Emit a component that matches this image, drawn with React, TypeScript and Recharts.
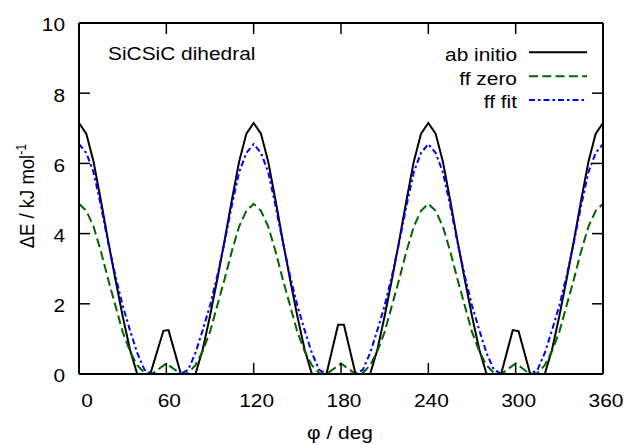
import React from 'react';
import { LineChart, Line, XAxis, YAxis } from 'recharts';

const xTicks = [0, 60, 120, 180, 240, 300, 360];
const yTicks = [0, 2, 4, 6, 8, 10];

const abPhi = [0, 5, 10, 15, 20, 25, 30, 35, 40, 49, 58, 61.5, 70, 80, 85, 90, 95, 100, 105, 110, 115, 120,
  125, 130, 135, 140, 145, 150, 155, 160, 170, 178, 182, 190, 200, 205, 210, 215, 220, 225, 230, 235, 240,
  245, 250, 255, 260, 265, 270, 275, 280, 290, 298, 302, 310, 320, 325, 330, 335, 340, 345, 350, 355, 360];
const abE = [7.15, 6.85, 6.05, 4.95, 3.8, 2.7, 1.65, 0.7, 0, 0, 1.23, 1.25, 0, 0, 0.7, 1.65, 2.7, 3.8, 4.95, 6.05, 6.85, 7.15,
  6.85, 6.05, 4.95, 3.8, 2.7, 1.65, 0.7, 0, 0, 1.4, 1.4, 0, 0, 0.7, 1.65, 2.7, 3.8, 4.95, 6.05, 6.85, 7.15,
  6.85, 6.05, 4.95, 3.8, 2.7, 1.65, 0.7, 0, 0, 1.25, 1.22, 0, 0, 0.7, 1.65, 2.7, 3.8, 4.95, 6.05, 6.85, 7.15];

const gridPhi = [0, 5, 10, 15, 20, 25, 30, 35, 40, 45, 50, 55, 60, 65, 70, 75, 80, 85, 90, 95, 100, 105, 110, 115, 120,
  125, 130, 135, 140, 145, 150, 155, 160, 165, 170, 175, 180, 185, 190, 195, 200, 205, 210, 215, 220, 225, 230, 235, 240,
  245, 250, 255, 260, 265, 270, 275, 280, 285, 290, 295, 300, 305, 310, 315, 320, 325, 330, 335, 340, 345, 350, 355, 360];
const zeroE = [4.85, 4.65, 4.2, 3.5, 2.7, 1.95, 1.2, 0.65, 0.25, 0.03, 0, 0.15, 0.3, 0.15, 0, 0.03, 0.25, 0.65, 1.2, 1.95, 2.7, 3.5, 4.2, 4.65, 4.85,
  4.65, 4.2, 3.5, 2.7, 1.95, 1.2, 0.65, 0.25, 0.03, 0, 0.15, 0.3, 0.15, 0, 0.03, 0.25, 0.65, 1.2, 1.95, 2.7, 3.5, 4.2, 4.65, 4.85,
  4.65, 4.2, 3.5, 2.7, 1.95, 1.2, 0.65, 0.25, 0.03, 0, 0.15, 0.3, 0.15, 0, 0.03, 0.25, 0.65, 1.2, 1.95, 2.7, 3.5, 4.2, 4.65, 4.85];
const fitE = [6.55, 6.3, 5.75, 4.8, 3.75, 2.8, 1.95, 1.25, 0.6, 0.12, 0.01, 0, 0, 0, 0.01, 0.12, 0.6, 1.25, 1.95, 2.8, 3.75, 4.8, 5.75, 6.3, 6.55,
  6.3, 5.75, 4.8, 3.75, 2.8, 1.95, 1.25, 0.6, 0.12, 0.01, 0, 0, 0, 0.01, 0.12, 0.6, 1.25, 1.95, 2.8, 3.75, 4.8, 5.75, 6.3, 6.55,
  6.3, 5.75, 4.8, 3.75, 2.8, 1.95, 1.25, 0.6, 0.12, 0.01, 0, 0, 0, 0.01, 0.12, 0.6, 1.25, 1.95, 2.8, 3.75, 4.8, 5.75, 6.3, 6.55];

const seriesNames = ['ab initio', 'ff zero', 'ff fit'];
const seriesColors = ['#000000', '#006400', '#0000ff'];
const seriesDash = ['', '9 4.3', '6 3 2.5 3'];

const toRows = (phi: number[], e: number[]) => phi.map((p, i) => ({ phi: p, e: e[i] }));
const seriesData = [toRows(abPhi, abE), toRows(gridPhi, zeroE), toRows(gridPhi, fitE)];

const FONT = '"Liberation Sans", Arial, Helvetica, sans-serif';
const SX = 1.13;
const FS = 18.5;
const TICK = 11;

const STxt = ({ x, y, anchor, children }: any) => (
  <text transform={`translate(${x},${y}) scale(${SX},1)`} textAnchor={anchor} fontFamily={FONT} fontSize={FS} fill="#000">
    {children}
  </text>
);

const BottomTick = (props: any) => {
  const { x, y, payload } = props;
  const v = payload.value;
  const dx = v === 0 ? 8 : 3;
  return (
    <g>
      <line x1={x} y1={y} x2={x} y2={y - TICK} stroke="#000" strokeWidth={1.5} />
      <STxt x={x + dx} y={y + 32.5} anchor="middle">{v}</STxt>
    </g>
  );
};
const TopTick = (props: any) => {
  const { x, y } = props;
  return <line x1={x} y1={y} x2={x} y2={y + TICK} stroke="#000" strokeWidth={1.5} />;
};
const LeftTick = (props: any) => {
  const { x, y, payload } = props;
  return (
    <g>
      <line x1={x} y1={y} x2={x + TICK} y2={y} stroke="#000" strokeWidth={1.5} />
      <STxt x={x - 14} y={y + 8.3} anchor="end">{payload.value}</STxt>
    </g>
  );
};
const RightTick = (props: any) => {
  const { x, y } = props;
  return <line x1={x} y1={y} x2={x - TICK} y2={y} stroke="#000" strokeWidth={1.5} />;
};

const legendRows = [52.3, 76.3, 100];

export default function App() {
  return (
    <div style={{ position: 'absolute', left: 0, top: 0, width: 625, height: 445, background: '#fff' }}>
      <LineChart width={625} height={445} margin={{ top: 22, right: 21, bottom: 70, left: 78 }}>
        <XAxis dataKey="phi" type="number" domain={[0, 360]} ticks={xTicks} allowDataOverflow height={1}
          tickSize={0} tickMargin={0} tickLine={false} axisLine={{ stroke: '#000', strokeWidth: 2 }} tick={<BottomTick />} />
        <XAxis xAxisId="top" orientation="top" dataKey="phi" type="number" domain={[0, 360]} ticks={xTicks} allowDataOverflow height={1}
          tickSize={0} tickMargin={0} tickLine={false} axisLine={{ stroke: '#000', strokeWidth: 2 }} tick={<TopTick />} />
        <YAxis type="number" domain={[0, 10]} ticks={yTicks} allowDataOverflow width={1}
          tickSize={0} tickMargin={0} tickLine={false} axisLine={{ stroke: '#000', strokeWidth: 2 }} tick={<LeftTick />} />
        <YAxis yAxisId="right" orientation="right" type="number" domain={[0, 10]} ticks={yTicks} allowDataOverflow width={1}
          tickSize={0} tickMargin={0} tickLine={false} axisLine={{ stroke: '#000', strokeWidth: 2 }} tick={<RightTick />} />
        {seriesData.map((d, i) => (
          <Line key={seriesNames[i]} data={d} dataKey="e" name={seriesNames[i]} type="linear"
            stroke={seriesColors[i]} strokeWidth={2} strokeDasharray={seriesDash[i] || undefined}
            dot={false} activeDot={false} isAnimationActive={false} />
        ))}
      </LineChart>
      <svg width={625} height={445} style={{ position: 'absolute', left: 0, top: 0, pointerEvents: 'none' }}>
        <STxt x={108} y={60} anchor="start">SiCSiC dihedral</STxt>
        {seriesNames.map((n, i) => (
          <g key={n}>
            <STxt x={517} y={legendRows[i] + 8.3} anchor="end">{n}</STxt>
            <line x1={529} x2={587} y1={legendRows[i]} y2={legendRows[i]} stroke={seriesColors[i]} strokeWidth={2}
              strokeDasharray={seriesDash[i] || undefined} />
          </g>
        ))}
        <STxt x={340} y={438.5} anchor="middle">φ / deg</STxt>
        <text transform={`translate(34,196) rotate(-90) scale(1,${SX})`} textAnchor="middle" fontFamily={FONT} fontSize={FS} fill="#000">
          ΔE / kJ mol<tspan fontSize={12.5} dy={-7}>-1</tspan>
        </text>
      </svg>
    </div>
  );
}
